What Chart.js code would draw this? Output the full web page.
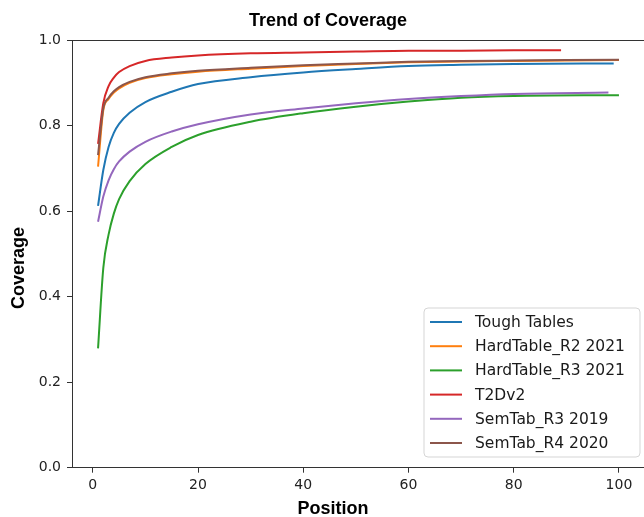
<!DOCTYPE html>
<html>
<head>
<meta charset="utf-8">
<script src="https://cdn.jsdelivr.net/npm/chart.js@4/dist/chart.umd.min.js"></script>
<style>
html,body{margin:0;padding:0;overflow:hidden;background:#fff;}
#wrap{width:650px;height:517px;}
</style>
</head>
<body>
<div id="wrap"><canvas id="c" width="650" height="517"></canvas></div>
<script>
// ---- data ----
const positions = [1, 2, 3, 4, 5, 7, 10, 15, 20, 30, 40, 50, 60, 70, 80];
const seriesNames = ["Tough Tables", "HardTable_R2 2021", "HardTable_R3 2021", "T2Dv2", "SemTab_R3 2019", "SemTab_R4 2020"];
const seriesColors = ["#1f77b4", "#ff7f0e", "#2ca02c", "#d62728", "#9467bd", "#8c564b"];
const endPositions = [99, 100, 100, 89, 98, 100];
const toughTables = [0.612, 0.696, 0.750, 0.783, 0.804, 0.830, 0.855, 0.879, 0.897, 0.913, 0.924, 0.932, 0.939, 0.942, 0.944, 0.945];
const hardTableR2 = [0.704, 0.836, 0.862, 0.877, 0.887, 0.900, 0.911, 0.920, 0.926, 0.933, 0.939, 0.944, 0.948, 0.950, 0.951, 0.953];
const hardTableR3 = [0.279, 0.467, 0.545, 0.594, 0.628, 0.670, 0.710, 0.750, 0.778, 0.809, 0.829, 0.844, 0.856, 0.865, 0.869, 0.871];
const t2dv2 = [0.757, 0.852, 0.892, 0.912, 0.925, 0.939, 0.951, 0.959, 0.964, 0.969, 0.971, 0.973, 0.975, 0.975, 0.976, 0.976];
const semTabR3 = [0.575, 0.634, 0.672, 0.698, 0.716, 0.739, 0.762, 0.786, 0.803, 0.826, 0.840, 0.852, 0.862, 0.869, 0.874, 0.877];
const semTabR4 = [0.731, 0.840, 0.865, 0.880, 0.890, 0.902, 0.913, 0.922, 0.928, 0.935, 0.941, 0.945, 0.949, 0.951, 0.952, 0.954];
const xTicks = [0, 20, 40, 60, 80, 100];
const yTicks = [0.0, 0.2, 0.4, 0.6, 0.8, 1.0];
const chartTitle = "Trend of Coverage";
const xTitle = "Position";
const yTitle = "Coverage";

const allSeries = [toughTables, hardTableR2, hardTableR3, t2dv2, semTabR3, semTabR4];
const n = allSeries.length;
const datasets = allSeries.map((vals, i) => {
  const xs = positions.concat([endPositions[i]]);
  return {
    label: seriesNames[i],
    data: xs.map((x, k) => ({x: x, y: vals[k]})),
    borderColor: seriesColors[i],
    backgroundColor: seriesColors[i],
    borderWidth: 2,
    pointRadius: 0,
    fill: false,
    cubicInterpolationMode: 'monotone',
    order: n - 1 - i
  };
});

const tickFont = {family: "'DejaVu Sans'", size: 14};
const decor = {
  id: 'decor',
  afterDraw(chart) {
    const ctx = chart.ctx;
    const a = chart.chartArea;
    ctx.save();
    // frame (top / right spines)
    ctx.strokeStyle = '#333';
    ctx.lineWidth = 1;
    ctx.beginPath();
    ctx.moveTo(Math.round(a.left) + 0.5, Math.round(a.top) + 0.5);
    ctx.lineTo(Math.round(a.right) + 0.5, Math.round(a.top) + 0.5);
    ctx.lineTo(Math.round(a.right) + 0.5, Math.round(a.bottom) + 0.5);
    ctx.stroke();
    // title
    ctx.fillStyle = '#000';
    ctx.font = "bold 18px 'Liberation Sans'";
    ctx.textAlign = 'center';
    ctx.textBaseline = 'alphabetic';
    ctx.fillText(chartTitle, 328, 26);
    // x title
    ctx.fillText(xTitle, 333, 514);
    // y title
    ctx.save();
    ctx.translate(24, 268);
    ctx.rotate(-Math.PI / 2);
    ctx.fillText(yTitle, 0, 0);
    ctx.restore();
    // legend
    const bx = 424, by = 308, bw = 216, bh = 149, r = 4;
    ctx.beginPath();
    ctx.moveTo(bx + r, by);
    ctx.lineTo(bx + bw - r, by);
    ctx.quadraticCurveTo(bx + bw, by, bx + bw, by + r);
    ctx.lineTo(bx + bw, by + bh - r);
    ctx.quadraticCurveTo(bx + bw, by + bh, bx + bw - r, by + bh);
    ctx.lineTo(bx + r, by + bh);
    ctx.quadraticCurveTo(bx, by + bh, bx, by + bh - r);
    ctx.lineTo(bx, by + r);
    ctx.quadraticCurveTo(bx, by, bx + r, by);
    ctx.closePath();
    ctx.fillStyle = 'rgba(255,255,255,0.8)';
    ctx.fill();
    ctx.strokeStyle = '#d5d5d5';
    ctx.lineWidth = 1;
    ctx.stroke();
    ctx.font = "15.5px 'DejaVu Sans'";
    ctx.textAlign = 'left';
    ctx.textBaseline = 'middle';
    chart.data.datasets.forEach((ds, i) => {
      const y = 322 + i * 24.2;
      ctx.strokeStyle = ds.borderColor;
      ctx.lineWidth = 2;
      ctx.beginPath();
      ctx.moveTo(430, y);
      ctx.lineTo(462, y);
      ctx.stroke();
      ctx.fillStyle = '#1a1a1a';
      ctx.fillText(ds.label, 475, y + 1);
    });
    ctx.restore();
  }
};

new Chart(document.getElementById('c'), {
  type: 'line',
  data: {datasets: datasets},
  options: {
    responsive: false,
    animation: false,
    devicePixelRatio: 1,
    layout: {padding: {top: 40, right: 5, left: 0, bottom: 0}},
    plugins: {legend: {display: false}, tooltip: {enabled: false}, title: {display: false}},
    scales: {
      x: {
        type: 'linear',
        min: -3.95,
        max: 104.95,
        afterBuildTicks: s => { s.ticks = xTicks.map(v => ({value: v})); },
        afterFit: s => { s.height = 49.3; },
        grid: {display: true, drawOnChartArea: false, drawTicks: true, tickLength: 5, tickColor: '#333'},
        border: {display: true, color: '#333', width: 1},
        ticks: {font: tickFont, color: '#222', padding: 4, maxRotation: 0, autoSkip: false,
                callback: v => String(v)}
      },
      y: {
        min: 0,
        max: 1,
        afterBuildTicks: s => { s.ticks = yTicks.map(v => ({value: v})); },
        afterFit: s => { s.width = 72; },
        grid: {display: true, drawOnChartArea: false, drawTicks: true, tickLength: 5, tickColor: '#333'},
        border: {display: true, color: '#333', width: 1},
        ticks: {font: tickFont, color: '#222', padding: 6, callback: v => Number(v).toFixed(1)}
      }
    }
  },
  plugins: [decor]
});
</script>
</body>
</html>
